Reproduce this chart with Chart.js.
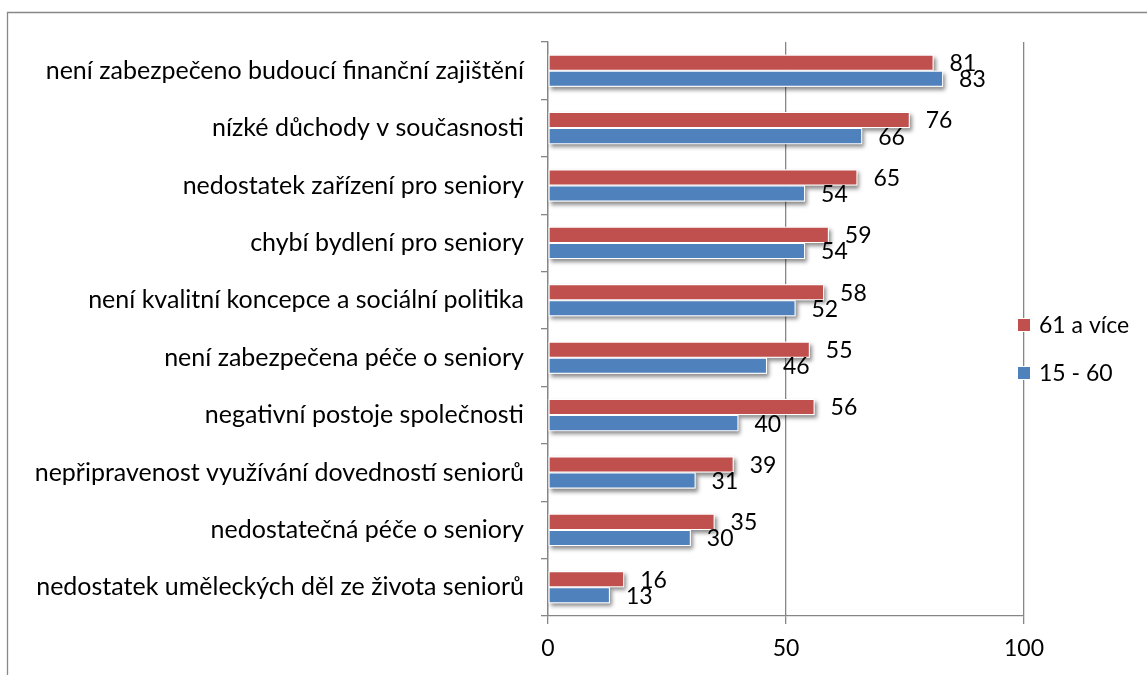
<!DOCTYPE html>
<html>
<head>
<meta charset="utf-8">
<script src="https://cdn.jsdelivr.net/npm/chart.js@4/dist/chart.umd.min.js"></script>
<style>
  html, body { margin: 0; padding: 0; background: #fff; }
  canvas { display: block; }
</style>
</head>
<body>
<canvas id="chart" width="1147" height="675"></canvas>
<script>
const categories = [
  'není zabezpečeno budoucí finanční zajištění',
  'nízké důchody v současnosti',
  'nedostatek zařízení pro seniory',
  'chybí bydlení pro seniory',
  'není kvalitní koncepce a sociální politika',
  'není zabezpečena péče o seniory',
  'negativní postoje společnosti',
  'nepřipravenost využívání dovedností seniorů',
  'nedostatečná péče o seniory',
  'nedostatek uměleckých děl ze života seniorů'
]
const older = [81, 76, 65, 59, 58, 55, 56, 39, 35, 16]
const younger = [83, 66, 54, 54, 52, 46, 40, 31, 30, 13]
const seriesNames = ['61 a více', '15 - 60']
const xTicks = [0, 50, 100]

const FONT = 'Lato, "Noto Sans", sans-serif'
const GRID = '#868686'

// drop shadow under every bar, drawn before the bars themselves
const barShadow = {
  id: 'barShadow',
  beforeDatasetsDraw(chart) {
    const ctx = chart.ctx
    ctx.save()
    ctx.shadowColor = 'rgba(0, 0, 0, 0.45)'
    ctx.shadowBlur = 4
    ctx.shadowOffsetX = 2
    ctx.shadowOffsetY = 3
    ctx.fillStyle = '#fff'
    chart.data.datasets.forEach((ds, i) => {
      chart.getDatasetMeta(i).data.forEach(bar => {
        const p = bar.getProps(['x', 'y', 'base', 'height'], true)
        ctx.fillRect(p.base, p.y - p.height / 2, p.x - p.base, p.height)
      })
    })
    ctx.restore()
  }
}

// value labels right of the bar ends
const valueLabels = {
  id: 'valueLabels',
  afterDatasetsDraw(chart) {
    const ctx = chart.ctx
    ctx.save()
    ctx.font = '23px ' + FONT
    ctx.fillStyle = '#000'
    ctx.textAlign = 'left'
    ctx.textBaseline = 'middle'
    chart.data.datasets.forEach((ds, i) => {
      chart.getDatasetMeta(i).data.forEach((bar, j) => {
        ctx.fillText(ds.data[j], bar.x + 16, bar.y + 1)
      })
    })
    ctx.restore()
  }
}

// legend sits over the plot near the 100 gridline, plus the outer frame
const sideLegend = {
  id: 'sideLegend',
  afterDraw(chart) {
    const ctx = chart.ctx
    const x = chart.chartArea.right
    ctx.save()
    ctx.font = '23px ' + FONT
    ctx.textBaseline = 'middle'
    chart.data.datasets.forEach((ds, i) => {
      const cy = 325 + i * 48
      ctx.fillStyle = ds.backgroundColor
      ctx.fillRect(x - 6, cy - 6, 12, 12)
      ctx.strokeStyle = '#fff'
      ctx.lineWidth = 1
      ctx.strokeRect(x - 6.5, cy - 6.5, 13, 13)
      ctx.fillStyle = '#000'
      ctx.fillText(ds.label, x + 15, cy + 1)
    })

    ctx.strokeStyle = '#888'
    ctx.lineWidth = 1.3
    ctx.beginPath()
    ctx.moveTo(7.5, 675)
    ctx.lineTo(7.5, 12.5)
    ctx.lineTo(1147, 12.5)
    ctx.stroke()
    ctx.restore()
  }
}

new Chart(document.getElementById('chart'), {
  type: 'bar',
  data: {
    labels: categories,
    datasets: [
      {
        label: seriesNames[0],
        data: older,
        backgroundColor: '#C0504D',
        borderColor: '#fff',
        borderWidth: 1,
        borderSkipped: false
      },
      {
        label: seriesNames[1],
        data: younger,
        backgroundColor: '#4F81BD',
        borderColor: '#fff',
        borderWidth: 1,
        borderSkipped: false
      }
    ]
  },
  options: {
    indexAxis: 'y',
    responsive: false,
    animation: false,
    devicePixelRatio: 1,
    categoryPercentage: 0.56,
    barPercentage: 1.0,
    layout: {
      padding: { top: 42, right: 123, bottom: 0, left: 0 }
    },
    plugins: {
      legend: { display: false },
      tooltip: { enabled: false }
    },
    scales: {
      x: {
        min: 0,
        max: 100,
        afterBuildTicks(scale) {
          scale.ticks = xTicks.map(v => ({ value: v }))
        },
        afterFit(scale) {
          scale.height = 59
        },
        ticks: {
          color: '#000',
          font: { family: FONT, size: 23 },
          padding: 11
        },
        grid: {
          color: GRID,
          lineWidth: 1.3,
          tickLength: 8,
          tickColor: GRID
        },
        border: { color: GRID, width: 1.3 }
      },
      y: {
        afterFit(scale) {
          scale.width = 548
        },
        ticks: {
          color: '#000',
          font: { family: FONT, size: 25 },
          padding: 17,
          autoSkip: false
        },
        grid: {
          drawOnChartArea: false,
          tickLength: 7,
          tickColor: GRID,
          lineWidth: 1.3
        },
        border: { color: GRID, width: 1.3 }
      }
    }
  },
  plugins: [barShadow, valueLabels, sideLegend]
})
</script>
</body>
</html>
